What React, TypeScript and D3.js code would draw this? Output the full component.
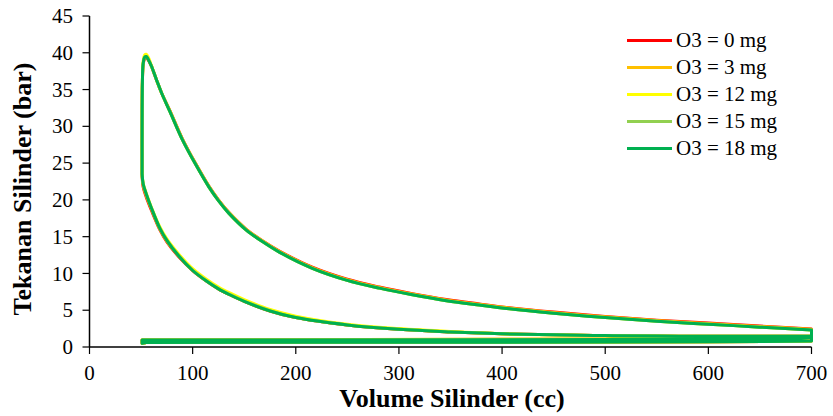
import React from 'react';
import * as d3 from 'd3';

// Shared volume samples (cc) for one engine cycle
const volumeCc = [
  // compression
  700, 650, 600, 550, 500, 450, 400, 350, 300, 250, 200, 175, 150, 136, 125, 113, 100, 87, 75, 68, 60, 55, 52, 51,
  // combustion + expansion
  51, 51.3, 52, 53.5, 55, 57, 60, 65, 70, 78, 90, 103, 116, 125, 135, 152, 168, 184, 216, 249, 281, 313, 346, 378, 407, 450, 500, 550, 600, 650, 700,
  // exhaust
  700, 680, 600, 400, 200, 51,
  // intake
  51, 55, 200, 400, 600, 700, 700,
];
// index where each phase starts: compression, expansion, exhaust, intake
const phaseStart = [0, 24, 55, 61];

// Cylinder pressure (bar) for each ozone dose
const pressure0mg = [
  1.45, 1.45, 1.45, 1.5, 1.55, 1.65, 1.8, 2.05, 2.4, 3.0, 4.0, 4.9, 6.2, 7.1, 7.9, 9.0, 10.4, 12.2, 14.3, 16.0, 18.6, 20.4, 21.8, 23.2,
  30, 36, 38.3, 39.2, 39.3, 39.0, 38.2, 36.3, 34.5, 32.1, 28.3, 24.9, 21.8, 20.0, 18.3, 16.0, 14.4, 13.05, 10.85, 9.25, 8.15, 7.25, 6.45, 5.85, 5.35, 4.75, 4.15, 3.65, 3.25, 2.85, 2.45,
  1.3, 1.1, 1.05, 1.0, 0.95, 0.95,
  0.5, 0.6, 0.65, 0.65, 0.7, 0.8, 1.45,
];
const pressure3mg = [
  1.45, 1.45, 1.45, 1.5, 1.55, 1.65, 1.8, 2.05, 2.4, 3.0, 4.0, 4.9, 6.2, 7.1, 7.9, 9.0, 10.4, 12.3, 14.4, 16.1, 18.8, 20.6, 22.0, 23.4,
  30, 36, 38.4, 39.3, 39.4, 39.1, 38.2, 36.3, 34.5, 32.1, 28.3, 24.9, 21.8, 20.0, 18.3, 16.0, 14.4, 13.0, 10.8, 9.2, 8.1, 7.2, 6.4, 5.8, 5.3, 4.7, 4.1, 3.6, 3.2, 2.8, 2.4,
  1.4, 1.2, 1.15, 1.1, 1.0, 0.95,
  0.5, 0.6, 0.65, 0.65, 0.7, 0.8, 1.45,
];
const pressure12mg = [
  1.45, 1.45, 1.45, 1.5, 1.55, 1.65, 1.8, 2.1, 2.5, 3.1, 4.2, 5.1, 6.45, 7.35, 8.15, 9.25, 10.65, 12.55, 14.7, 16.4, 19.0, 20.9, 22.3, 23.6,
  30, 36.3, 38.8, 39.7, 39.8, 39.4, 38.3, 36.3, 34.5, 32.0, 28.2, 24.8, 21.7, 19.9, 18.2, 15.9, 14.3, 12.9, 10.7, 9.1, 8.0, 7.1, 6.3, 5.7, 5.2, 4.6, 4.0, 3.5, 3.1, 2.7, 2.3,
  1.3, 1.1, 1.05, 1.0, 0.95, 0.95,
  0.5, 0.6, 0.65, 0.65, 0.7, 0.8, 1.45,
];
const pressure15mg = [
  1.45, 1.45, 1.45, 1.5, 1.55, 1.65, 1.8, 2.05, 2.4, 3.0, 4.0, 4.95, 6.25, 7.15, 7.95, 9.05, 10.45, 12.35, 14.5, 16.2, 18.9, 20.8, 22.2, 23.5,
  30, 36, 38.5, 39.4, 39.5, 39.1, 38.2, 36.3, 34.5, 32.0, 28.2, 24.8, 21.7, 19.9, 18.2, 15.9, 14.3, 12.9, 10.7, 9.1, 8.0, 7.1, 6.3, 5.7, 5.2, 4.6, 4.0, 3.5, 3.1, 2.7, 2.3,
  1.3, 1.1, 1.05, 1.0, 0.95, 0.95,
  0.5, 0.6, 0.65, 0.65, 0.7, 0.8, 1.45,
];
const pressure18mg = [
  1.45, 1.45, 1.45, 1.5, 1.55, 1.65, 1.8, 2.05, 2.4, 3.0, 4.0, 4.9, 6.2, 7.1, 7.9, 9.0, 10.4, 12.3, 14.5, 16.2, 18.9, 20.8, 22.2, 23.5,
  30, 36, 38.5, 39.4, 39.5, 39.1, 38.2, 36.3, 34.5, 32.0, 28.2, 24.8, 21.7, 19.9, 18.2, 15.9, 14.3, 12.9, 10.7, 9.1, 8.0, 7.1, 6.3, 5.7, 5.2, 4.6, 4.0, 3.5, 3.1, 2.7, 2.3,
  1.3, 1.1, 1.05, 1.0, 0.95, 0.95,
  0.5, 0.6, 0.65, 0.65, 0.7, 0.8, 1.45,
];

const seriesNames = ['O3 = 0 mg', 'O3 = 3 mg', 'O3 = 12 mg', 'O3 = 15 mg', 'O3 = 18 mg'];
const seriesPressures = [pressure0mg, pressure3mg, pressure12mg, pressure15mg, pressure18mg];
const seriesColors = ['#FF0000', '#FFC000', '#FFFF00', '#92D050', '#00B050'];

const xTicks = [0, 100, 200, 300, 400, 500, 600, 700];
const yTicks = [0, 5, 10, 15, 20, 25, 30, 35, 40, 45];

const width = 833;
const height = 416;
const font = '"Liberation Serif", "DejaVu Serif", "Times New Roman", Times, serif';

export default function App() {
  const x = d3.scaleLinear().domain([0, 700]).range([89.5, 811.5]);
  const y = d3.scaleLinear().domain([0, 45]).range([347, 16]);

  const smooth = d3
    .line<[number, number]>()
    .x((d) => x(d[0]))
    .y((d) => y(d[1]))
    .curve(d3.curveCatmullRom.alpha(0.5));
  const straight = d3
    .line<[number, number]>()
    .x((d) => x(d[0]))
    .y((d) => y(d[1]));

  // one path per phase, each starting where the previous one ended
  const cyclePath = (p: number[]) => {
    const pts: [number, number][] = volumeCc.map((v, i) => [v, p[i]]);
    return phaseStart
      .map((s, k) => {
        const e = k + 1 < phaseStart.length ? phaseStart[k + 1] : pts.length;
        const seg = pts.slice(Math.max(0, s - 1), e);
        return (k < 2 ? smooth(seg) : straight(seg)) || '';
      })
      .join('');
  };

  const textStyle = { fontFamily: font };

  return (
    <svg
      width={width}
      height={height}
      style={{ position: 'absolute', left: 0, top: 0, background: '#fff' }}
    >
      {/* series */}
      <g fill="none" strokeWidth={3} strokeLinejoin="round" strokeLinecap="round">
        {seriesPressures.map((p, i) => (
          <path key={seriesNames[i]} d={cyclePath(p)} stroke={seriesColors[i]} />
        ))}
      </g>

      {/* y axis */}
      <g>
        <line x1={x(0)} x2={x(0)} y1={y(45)} y2={y(0)} stroke="#000" strokeWidth={1.5} />
        {yTicks.map((t) => (
          <g key={t}>
            <line x1={x(0) - 7} x2={x(0)} y1={y(t)} y2={y(t)} stroke="#000" strokeWidth={1.2} />
            <text x={73} y={y(t)} dy="0.34em" textAnchor="end" fontSize={21} fill="#000" style={textStyle}>
              {t}
            </text>
          </g>
        ))}
      </g>

      {/* x axis */}
      <g>
        <line x1={x(0)} x2={x(700)} y1={y(0)} y2={y(0)} stroke="#000" strokeWidth={1.5} />
        {xTicks.map((t) => (
          <g key={t}>
            <line x1={x(t)} x2={x(t)} y1={y(0)} y2={y(0) + 7} stroke="#000" strokeWidth={1.2} />
            <text x={x(t)} y={380} textAnchor="middle" fontSize={21} fill="#000" style={textStyle}>
              {t}
            </text>
          </g>
        ))}
      </g>

      {/* axis titles */}
      <text x={452} y={407} textAnchor="middle" fontSize={26} fontWeight="bold" fill="#000" style={textStyle}>
        Volume Silinder (cc)
      </text>
      <text
        transform="translate(31,189) rotate(-90)"
        textAnchor="middle"
        fontSize={26}
        fontWeight="bold"
        fill="#000"
        style={textStyle}
      >
        Tekanan Silinder (bar)
      </text>

      {/* legend */}
      <g>
        {seriesNames.map((name, i) => {
          const ly = 40.5 + i * 27;
          return (
            <g key={name}>
              <line x1={627} x2={672} y1={ly} y2={ly} stroke={seriesColors[i]} strokeWidth={3} />
              <text x={676} y={ly} dy="0.33em" fontSize={21} fill="#000" style={textStyle}>
                {name}
              </text>
            </g>
          );
        })}
      </g>
    </svg>
  );
}
